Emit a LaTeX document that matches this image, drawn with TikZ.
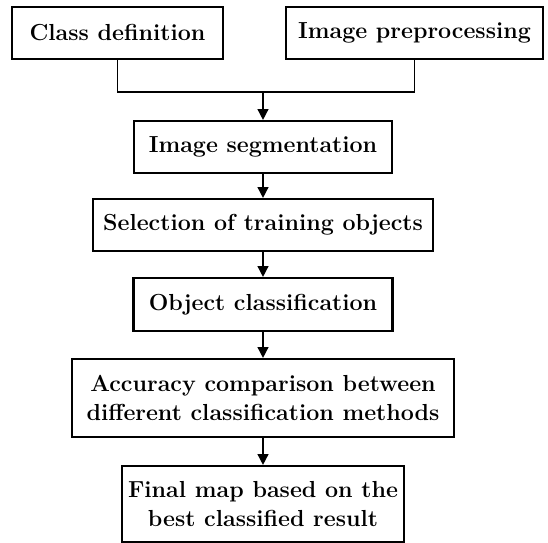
\documentclass[tikz,border=0pt]{standalone}
\usepackage{amsmath}
\usepackage{tikz}
\usetikzlibrary{arrows.meta}

\tikzset{
  stepbox/.style={draw, line width=1.5pt, align=center, inner sep=0pt,
    font=\fontsize{16.5}{21}\selectfont\bfseries},
  flow/.style={line width=1.1pt, -{Triangle[length=2.7mm,width=2.7mm]}}
}

\begin{document}
\begin{tikzpicture}[x=0.025cm,y=-0.025cm]
			\useasboundingbox (0,0) rectangle (548,543);
			% top row
			\node [stepbox, minimum width=211*0.025cm, minimum height=52*0.025cm] (classdef) at (117.5,33) {Class definition};
			\node [stepbox, minimum width=257*0.025cm, minimum height=52*0.025cm] (preproc) at (414.5,33) {Image preprocessing};
			% main column
			\node [stepbox, minimum width=258*0.025cm, minimum height=52*0.025cm] (seg) at (263,147) {Image segmentation};
			\node [stepbox, minimum width=340*0.025cm, minimum height=52*0.025cm] (training) at (263,225) {Selection of training objects};
			\node [stepbox, minimum width=259*0.025cm, minimum height=53*0.025cm] (objclass) at (263,304.5) {Object classification};
			\node [stepbox, minimum width=382*0.025cm, minimum height=78*0.025cm] (accuracy) at (263,398) {Accuracy comparison between\\different classification methods};
			\node [stepbox, minimum width=282*0.025cm, minimum height=76*0.025cm] (finalmap) at (263,504) {Final map based on the\\best classified result};
			\coordinate (join) at (263,92);
			\draw [line width=1.1pt] (classdef.south) |- (join) -| (preproc.south);
			\draw [flow] (join) -- (seg.north);
			\draw [flow] (seg.south) -- (training.north);
			\draw [flow] (training.south) -- (objclass.north);
			\draw [flow] (objclass.south) -- (accuracy.north);
			\draw [flow] (accuracy.south) -- (finalmap.north);
		\end{tikzpicture}
\end{document}
